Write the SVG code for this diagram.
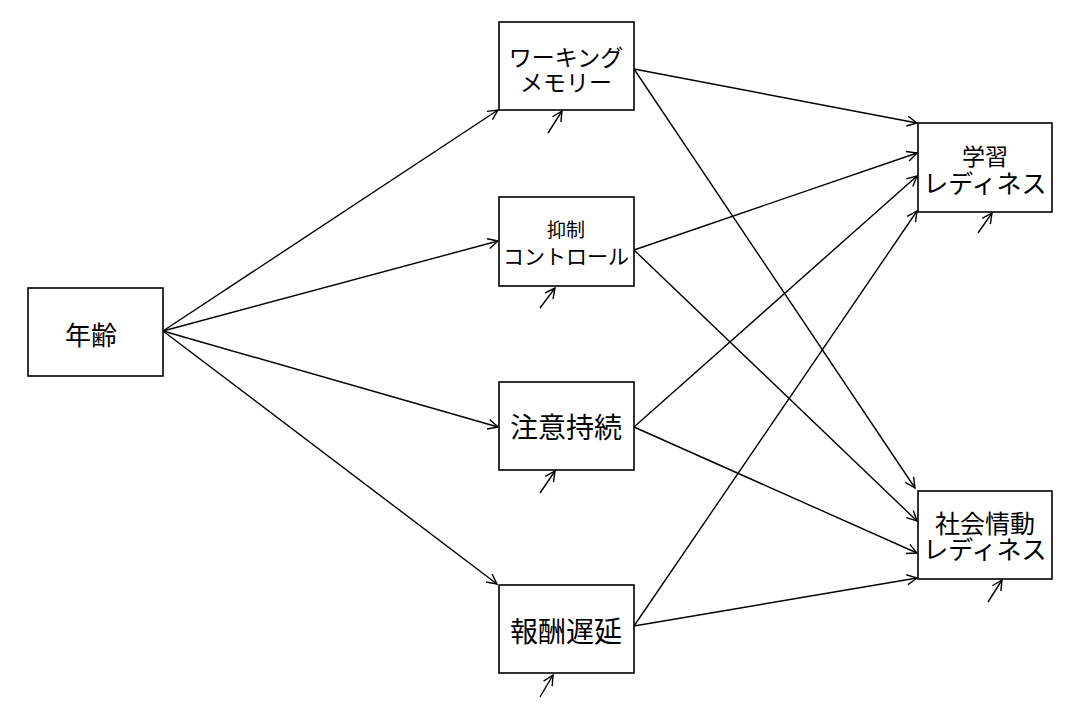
<svg xmlns="http://www.w3.org/2000/svg" width="1084" height="720" viewBox="0 0 1084 720">
<style>
.box{fill:#fff;stroke:#000;stroke-width:1.6}
.t{font-family:"Noto Sans CJK JP","Noto Sans CJK SC",sans-serif;fill:#000;text-anchor:middle;dominant-baseline:central}
.c line{stroke:#000;stroke-width:1.4;fill:none;marker-end:url(#ah)}
</style>
<defs>
<marker id="ah" viewBox="0 0 12 12" refX="11" refY="6" markerWidth="12" markerHeight="12" markerUnits="userSpaceOnUse" orient="auto">
<path d="M1,1 L11,6 L1,11" fill="none" stroke="#000" stroke-width="1.4"/>
</marker>
</defs>
<rect width="1084" height="720" fill="#fff"/>
<g class="c" id="connectors">
<line x1="163" y1="331" x2="498" y2="110"/>
<line x1="163" y1="331" x2="498" y2="241"/>
<line x1="163" y1="331" x2="498" y2="427"/>
<line x1="163" y1="331" x2="497" y2="584"/>
<line x1="634" y1="69" x2="917" y2="123"/>
<line x1="634" y1="69" x2="915" y2="488"/>
<line x1="634" y1="250" x2="917" y2="153"/>
<line x1="634" y1="250" x2="917" y2="521"/>
<line x1="634" y1="427" x2="917" y2="176"/>
<line x1="634" y1="427" x2="917" y2="553"/>
<line x1="634" y1="626" x2="917" y2="211"/>
<line x1="634" y1="626" x2="917" y2="578"/>
<line x1="548" y1="133" x2="562" y2="111"/>
<line x1="540" y1="308" x2="555" y2="288"/>
<line x1="540" y1="493" x2="555" y2="471"/>
<line x1="540" y1="697" x2="553" y2="675"/>
<line x1="978" y1="233" x2="992" y2="213"/>
<line x1="988" y1="602" x2="1002" y2="580"/>
</g>
<g id="age">
<rect class="box" x="28" y="288" width="135" height="88"/>
<text class="t" x="91" y="333" font-size="26">年齢</text>
</g>
<g id="wm">
<rect class="box" x="499" y="22" width="135" height="88"/>
<text class="t" x="566" y="56" font-size="23">ワーキング</text>
<text class="t" x="566" y="81" font-size="23">メモリー</text>
</g>
<g id="ic">
<rect class="box" x="499" y="197" width="135" height="89"/>
<text class="t" x="566" y="228" font-size="19">抑制</text>
<text class="t" x="566" y="255" font-size="21">コントロール</text>
</g>
<g id="att">
<rect class="box" x="499" y="382" width="135" height="88"/>
<text class="t" x="566" y="426" font-size="28">注意持続</text>
</g>
<g id="dg">
<rect class="box" x="499" y="585" width="135" height="88"/>
<text class="t" x="566" y="630" font-size="28">報酬遅延</text>
</g>
<g id="lr">
<rect class="box" x="918" y="123" width="134" height="89"/>
<text class="t" x="985" y="155" font-size="23">学習</text>
<text class="t" x="985" y="182" font-size="25">レディネス</text>
</g>
<g id="ser">
<rect class="box" x="918" y="491" width="134" height="88"/>
<text class="t" x="985" y="522" font-size="25">社会情動</text>
<text class="t" x="985" y="548" font-size="25">レディネス</text>
</g>
</svg>
